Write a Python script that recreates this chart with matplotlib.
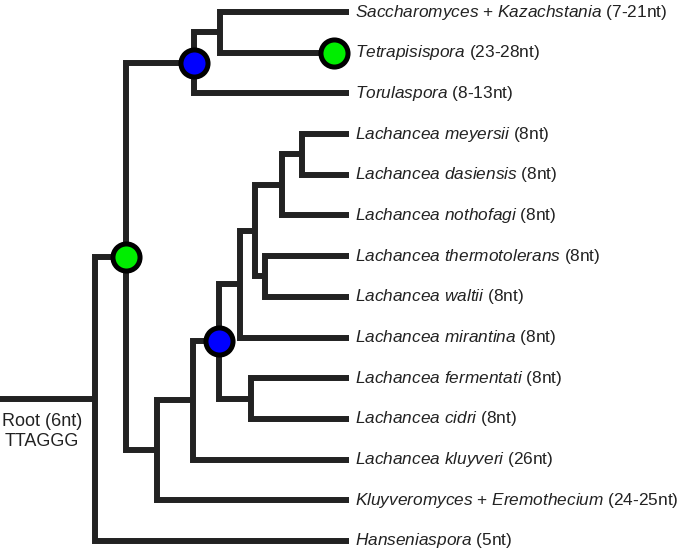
import numpy as np
import matplotlib.pyplot as plt

plt.rcParams['font.family'] = ['Liberation Sans', 'DejaVu Sans']
plt.rcParams['mathtext.fontset'] = 'custom'
plt.rcParams['mathtext.rm'] = 'Liberation Sans'
plt.rcParams['mathtext.it'] = 'Liberation Sans:italic'

# leaves, top to bottom (italic part, telomere repeat length)
taxa = [r"$\it{Saccharomyces}$ + $\it{Kazachstania}$",
        r"$\it{Tetrapisispora}$",
        r"$\it{Torulaspora}$",
        r"$\it{Lachancea\ meyersii}$",
        r"$\it{Lachancea\ dasiensis}$",
        r"$\it{Lachancea\ nothofagi}$",
        r"$\it{Lachancea\ thermotolerans}$",
        r"$\it{Lachancea\ waltii}$",
        r"$\it{Lachancea\ mirantina}$",
        r"$\it{Lachancea\ fermentati}$",
        r"$\it{Lachancea\ cidri}$",
        r"$\it{Lachancea\ kluyveri}$",
        r"$\it{Kluyveromyces}$ + $\it{Eremothecium}$",
        r"$\it{Hanseniaspora}$"]
telomere = ["7-21nt", "23-28nt", "8-13nt", "8nt", "8nt", "8nt", "8nt", "8nt",
            "8nt", "8nt", "8nt", "26nt", "24-25nt", "5nt"]

# internal nodes (children are leaf indices or node names), listed children first
node_names = ["L", "K", "J", "I", "G", "H", "F", "E", "B", "D", "C", "A", "root"]
node_kids = [(3, 4), ("L", 5), (6, 7), ("K", "J"), ("I", 8), (9, 10), ("G", "H"),
             ("F", 11), ("E", 12), (0, 1), ("D", 2), ("C", "B"), ("A", 13)]
node_depth = [302, 282, 265, 255, 240, 251, 219, 193, 157, 220, 194, 126, 95]
tip_depth = 349

# telomere change events: node -> colour
events = {"C": "blue", "F": "blue", "A": "green", 1: "green"}
event_colors = {"blue": "#0000ff", "green": "#00ee00"}

line_col = "#222222"

fig = plt.figure(figsize=(6.85, 5.53), dpi=100)
ax = fig.add_axes([0, 0, 1, 1])
ax.set_xlim(0, 685)
ax.set_ylim(13.295, -0.295)
ax.axis('off')

# layout: leaf y = index, node y = mean of its children
pos = {i: (tip_depth, float(i)) for i in range(len(taxa))}
for name, kids, d in zip(node_names, node_kids, node_depth):
    ys = [pos[k][1] for k in kids]
    pos[name] = (d, np.mean(ys))

for name, kids, d in zip(node_names, node_kids, node_depth):
    (x1, y1), (x2, y2) = pos[kids[0]], pos[kids[1]]
    ax.plot([x1, d, d, x2], [y1, y1, y2, y2], color=line_col, lw=4.3,
            solid_joinstyle='miter', solid_capstyle='butt', zorder=1)

# root stem
rx, ry = pos["root"]
ax.plot([0, rx], [ry, ry], color=line_col, lw=4.3, solid_capstyle='butt', zorder=1)
ax.text(42, ry + 0.66, "Root (6nt)", ha='center', va='baseline',
        fontsize=13, color="#222222")
ax.text(42, ry + 1.15, "TTAGGG", ha='center', va='baseline',
        fontsize=13, color="#222222")

for key, c in events.items():
    x, y = pos[key]
    if key == 1:
        x = 334
    ax.plot(x, y, 'o', ms=19.5, mew=3.6, mec='black', mfc=event_colors[c], zorder=3)

for i, (t, n) in enumerate(zip(taxa, telomere)):
    ax.text(tip_depth + 6, i, t + " (" + n + ")", ha='left', va='center',
            fontsize=12.4, color="#222222")

fig.savefig("out.png", dpi=100)
